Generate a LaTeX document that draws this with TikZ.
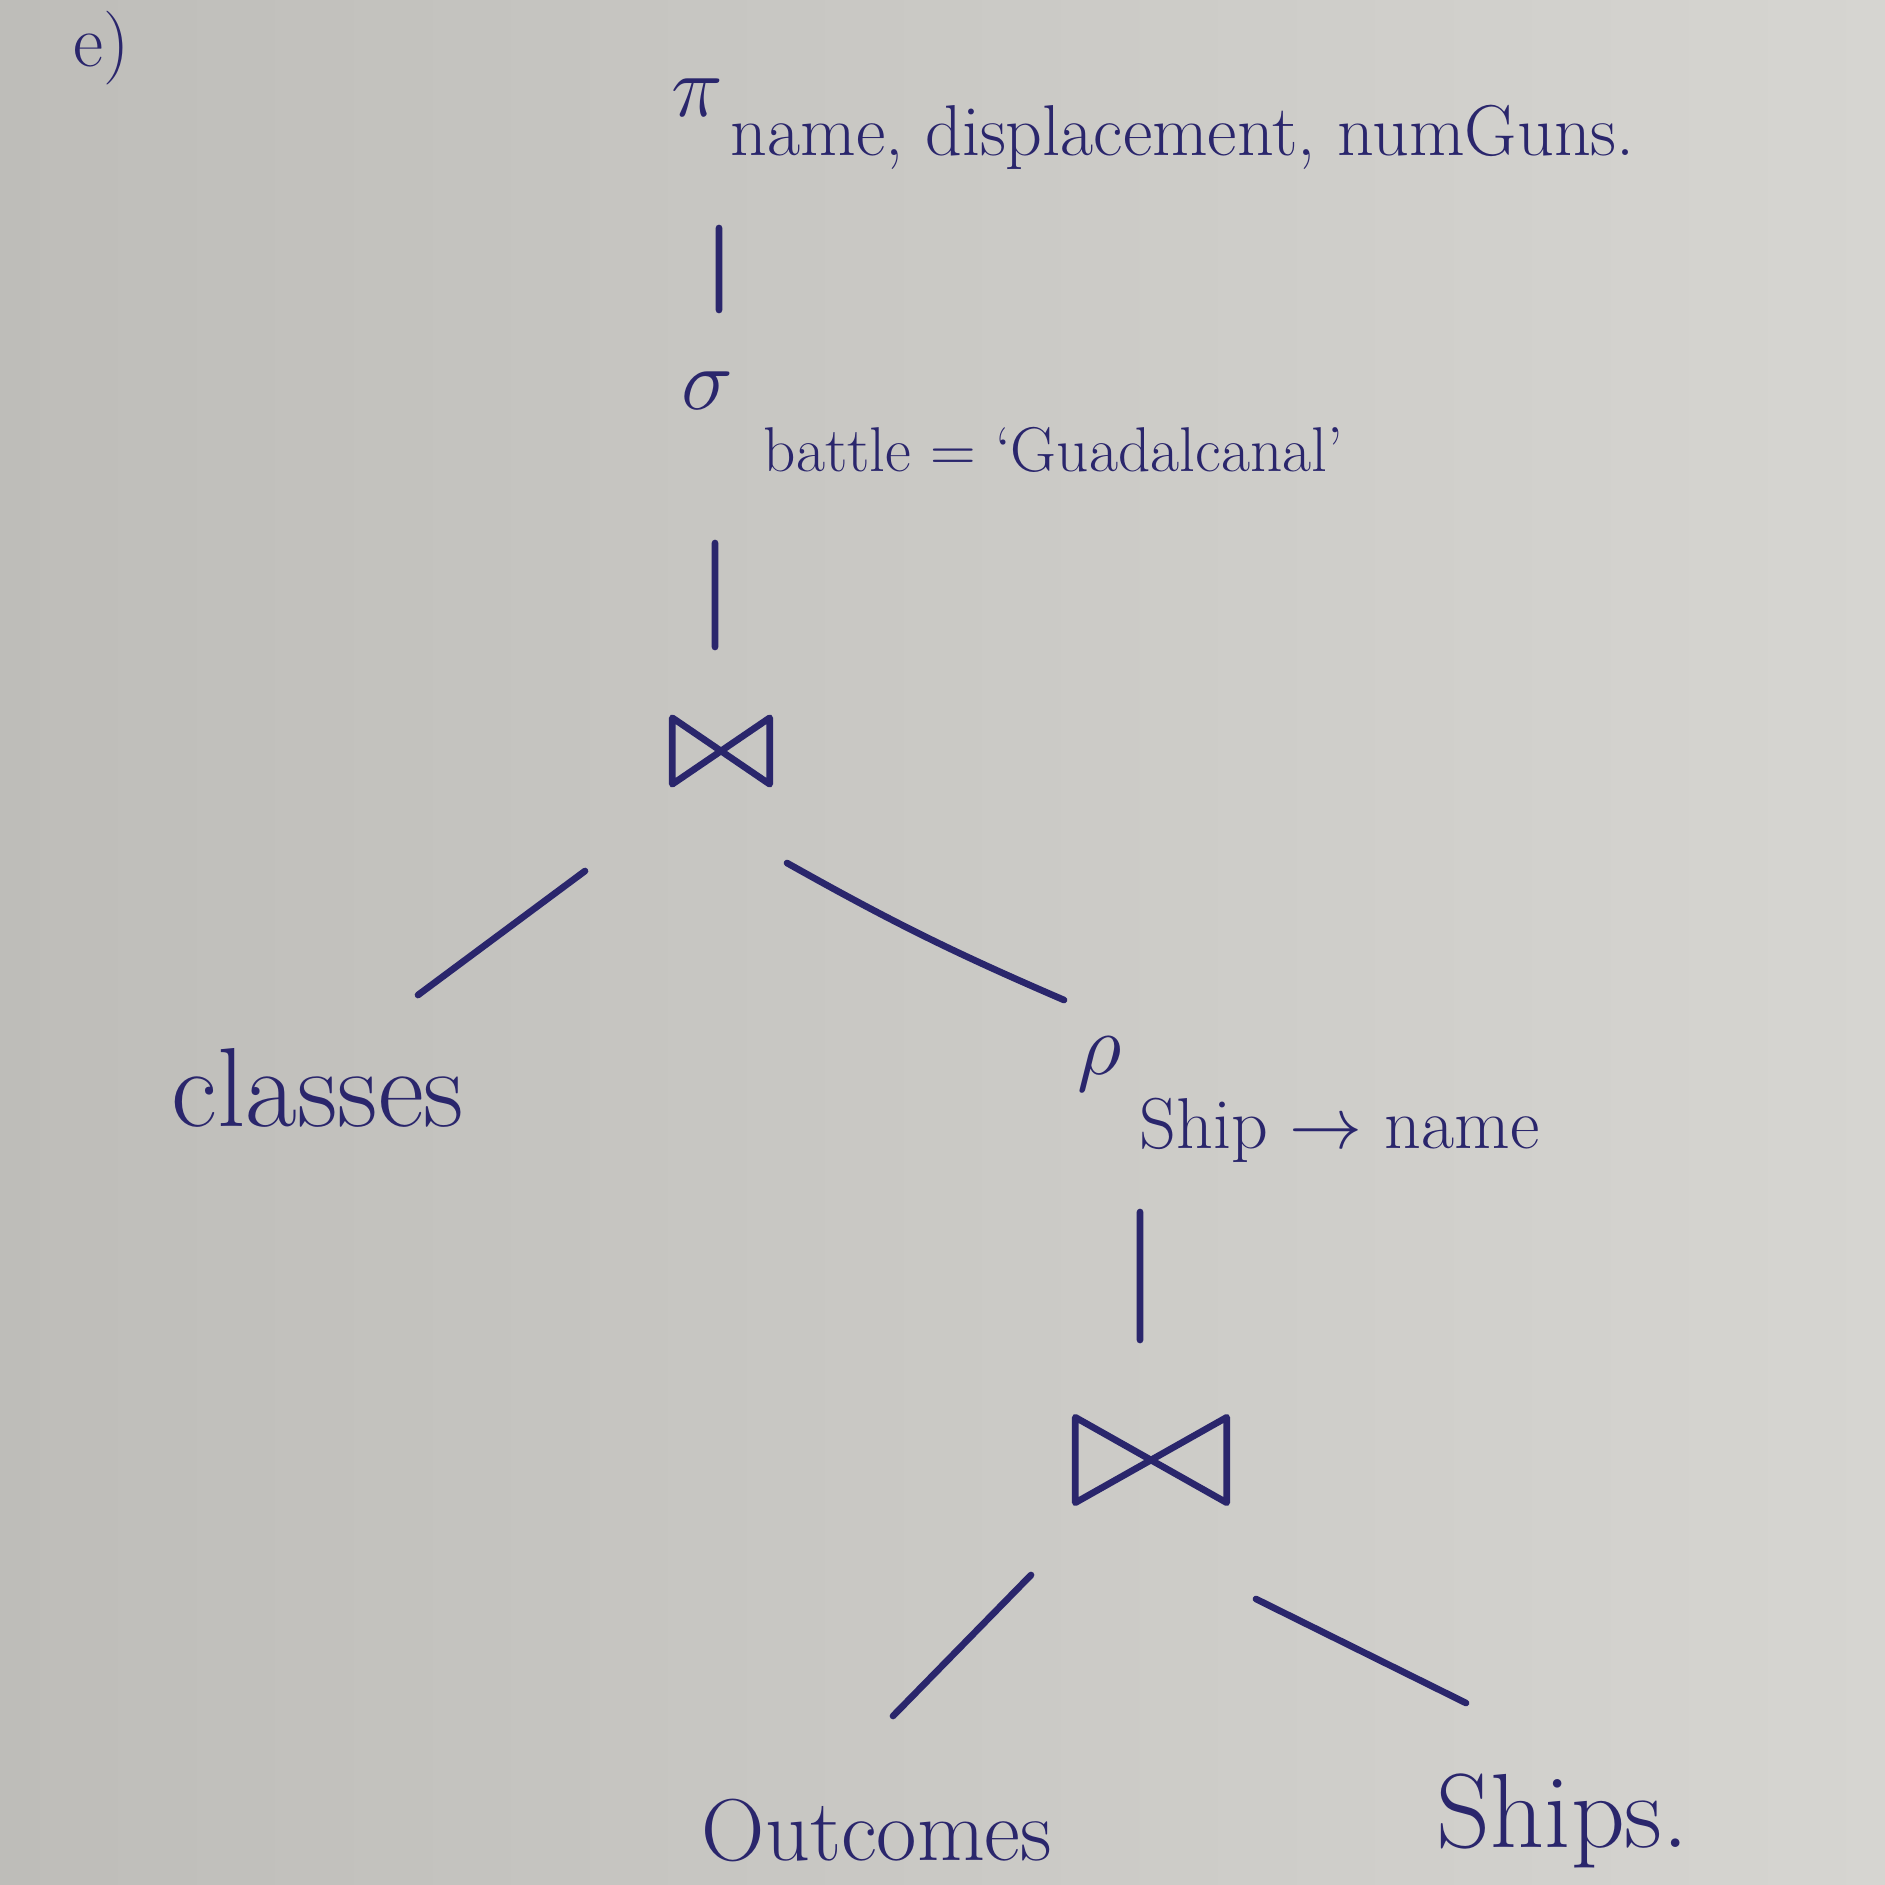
\documentclass[tikz,border=0pt]{standalone}
\usepackage{amsmath,amssymb}
\usetikzlibrary{calc}
\definecolor{ink}{RGB}{42,38,108}
\definecolor{paperL}{RGB}{190,189,185}
\definecolor{paperR}{RGB}{214,213,209}
\tikzset{
    stroke/.style={ink, line width=1.9pt, line cap=round, line join=round},
    opsym/.style={text=ink, inner sep=0pt, font=\fontsize{26}{30}\selectfont},
    opsub/.style={text=ink, inner sep=0pt, anchor=base west},
    relname/.style={text=ink, inner sep=0pt},
    joinop/.style={inner sep=0pt}
}

\begin{document}
\begin{tikzpicture}

%%% PAPER %%%
\shade[left color=paperL, right color=paperR] (0,0) rectangle (18.85,-18.85);
\useasboundingbox (0,0) rectangle (18.85,-18.85);

\node[relname, font=\fontsize{21}{24}\selectfont] (part) at (1.02,-0.48) {e)};

%%% OPERATORS %%%
\node[opsym] (proj) at (6.97,-0.98) {$\pi$};
\node[opsub, font=\fontsize{20.5}{24}\selectfont] (projsub) at (7.30,-1.56) {name, displacement, numGuns.};

\node[opsym] (sel) at (7.07,-3.91) {$\sigma$};
\node[opsub, font=\fontsize{18}{22}\selectfont] (selsub) at (7.63,-4.71) {battle = `Guadalcanal'};

\node[joinop, minimum width=0.96cm, minimum height=0.65cm] (j1) at (7.21,-7.51) {};

\node[relname, font=\fontsize{32}{36}\selectfont] (classes) at (3.18,-10.88) {classes};

\node[opsym] (rho) at (11.00,-10.64) {$\rho$};
\node[opsub, font=\fontsize{20.5}{24}\selectfont] (rhosub) at (11.39,-11.48) {Ship $\rightarrow$ name};

\node[joinop, minimum width=1.50cm, minimum height=0.84cm] (j2) at (11.51,-14.60) {};

\node[relname, font=\fontsize{25}{30}\selectfont] (outc) at (8.77,-18.30) {Outcomes};
\node[relname, font=\fontsize{30}{34}\selectfont] (ships) at (15.63,-18.21) {Ships.};

%%% JOIN SYMBOLS %%%
\foreach \j in {j1,j2}{
\draw[stroke] (\j.north west) -- (\j.south west) -- (\j.north east) -- (\j.south east) -- cycle;
}

%%% TREE EDGES %%%
\draw[stroke] ([shift={(0.22,-1.30)}]proj.center) -- ([shift={(0.12,0.81)}]sel.center);
\draw[stroke] ([shift={(0.08,-1.52)}]sel.center) -- ([shift={(-0.06,1.04)}]j1.center);
\draw[stroke] ([shift={(-1.36,-1.20)}]j1.center) -- ([shift={(1.00,0.93)}]classes.center);
\draw[stroke] ([shift={(0.66,-1.12)}]j1.center) to[bend right=3] ([shift={(-0.36,0.64)}]rho.center);
\draw[stroke] ([shift={(0.40,-1.48)}]rho.center) -- ([shift={(-0.11,1.20)}]j2.center);
\draw[stroke] ([shift={(-1.20,-1.15)}]j2.center) -- ([shift={(0.16,1.14)}]outc.center);
\draw[stroke] ([shift={(1.05,-1.39)}]j2.center) -- ([shift={(-0.97,1.18)}]ships.center);

\end{tikzpicture}
\end{document}
